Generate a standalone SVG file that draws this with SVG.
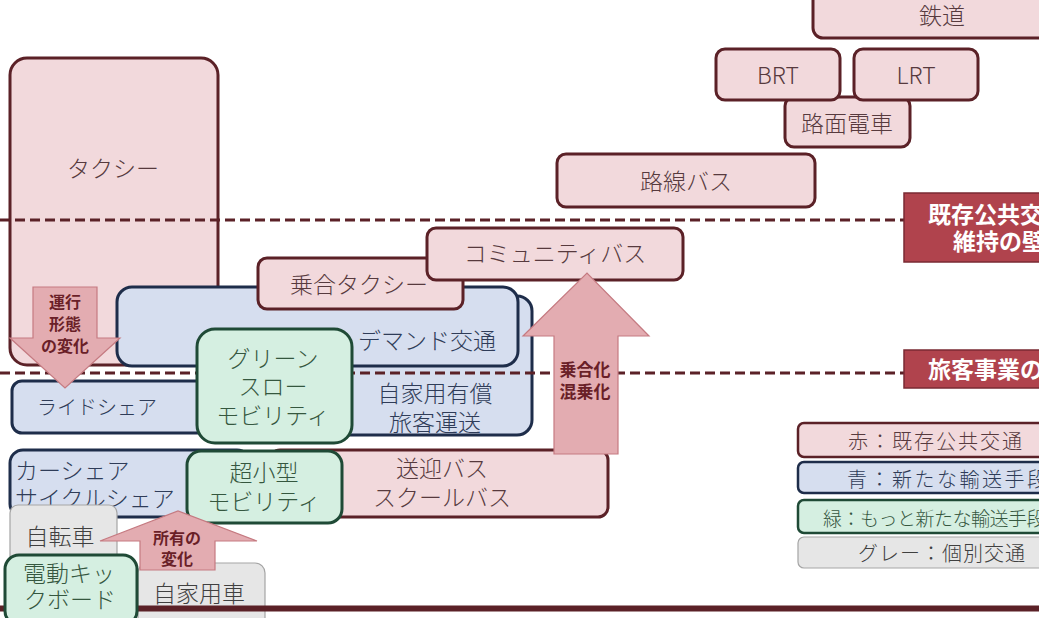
<svg xmlns="http://www.w3.org/2000/svg" width="1039" height="618" viewBox="0 0 1039 618">
<style>
text{font-family:"Noto Sans CJK JP","Noto Sans",sans-serif;dominant-baseline:central;text-anchor:middle;font-weight:300}
.r rect{fill:#f2d9dc;stroke:#5b2127;stroke-width:3}
.r text{fill:#573a3e;font-size:23px}
.b rect{fill:#d6deef;stroke:#1e2d4a;stroke-width:3}
.b text{fill:#2f3c58;font-size:23px}
.g rect{fill:#d5efe1;stroke:#1f4a36;stroke-width:3}
.g text{fill:#35573f;font-size:23px}
.y rect{fill:#e6e6e6;stroke:#a5a5a5;stroke-width:1.2}
.y text{fill:#404040;font-size:23px}
.dash{stroke:#5b2127;stroke-width:3;stroke-dasharray:10 5;fill:none}
.arr path{fill:#e3acb1;stroke:#c57a81;stroke-width:1.2}
.arr text{fill:#6a1f28;font-weight:bold;font-size:16px}
.lab rect{fill:#b0434d;stroke:#7a2a33;stroke-width:1.5}
.lab text{fill:#fff;font-weight:bold;font-size:23px;text-anchor:start}
.leg text{font-size:20px;text-anchor:start}
</style>
<rect width="1039" height="618" fill="#fff"/>
<g id="tetsudo" class="r"><rect x="813" y="-15" width="260" height="53" rx="10"/><text x="942" y="14">鉄道</text></g>
<g id="romen" class="r"><rect x="785" y="97" width="125" height="50" rx="9"/><text x="847" y="122">路面電車</text></g>
<g id="brt" class="r"><rect x="716" y="49" width="124" height="51" rx="9"/><text x="778" y="74">BRT</text></g>
<g id="lrt" class="r"><rect x="854" y="49" width="124" height="51" rx="9"/><text x="916" y="74">LRT</text></g>
<g id="rosen" class="r"><rect x="557" y="154" width="258" height="53" rx="9"/><text x="686" y="180">路線バス</text></g>
<g id="taxi" class="r"><rect x="10" y="58" width="208" height="307" rx="17"/><text x="113" y="167">タクシー</text></g>
<g id="jikayo" class="b"><rect x="230" y="296" width="302" height="139" rx="15"/><text x="435" y="392">自家用有償</text><text x="435" y="421">旅客運送</text></g>
<g id="demand" class="b"><rect x="117" y="287" width="401" height="79" rx="15"/><text x="427" y="339">デマンド交通</text></g>
<g id="noriai" class="r"><rect x="258" y="258" width="205" height="51" rx="9"/><text x="359" y="283">乗合タクシー</text></g>
<g id="community" class="r"><rect x="427" y="228" width="256" height="52" rx="9"/><text x="555" y="252">コミュニティバス</text></g>
<g id="rideshare" class="b"><rect x="12" y="381" width="230" height="52" rx="10"/><text x="97" y="406" style="font-size:20px">ライドシェア</text></g>
<g id="sogei" class="r"><rect x="270" y="450" width="338" height="67" rx="10"/><text x="442" y="467">送迎バス</text><text x="442" y="496">スクールバス</text></g>
<g id="carshare" class="b"><rect x="10" y="450" width="240" height="67" rx="13"/><text x="15" y="469" style="text-anchor:start">カーシェア</text><text x="15" y="497" style="text-anchor:start">サイクルシェア</text></g>
<g id="jitensha" class="y"><rect x="10" y="505" width="107" height="70" rx="8"/><text x="60" y="535">自転車</text></g>
<g id="jikayosha" class="y"><rect x="138" y="563" width="127" height="70" rx="10"/><text x="199" y="592">自家用車</text></g>
<g id="lines">
<line class="dash" x1="0" y1="220" x2="904" y2="220"/>
<line class="dash" x1="0" y1="373" x2="904" y2="373"/>
<line x1="0" y1="608.5" x2="1039" y2="608.5" stroke="#5b2127" stroke-width="6"/>
</g>
<g id="greenslow" class="g"><rect x="197" y="329" width="155" height="114" rx="18"/><text x="273" y="357">グリーン</text><text x="273" y="385">スロー</text><text x="273" y="414">モビリティ</text></g>
<g id="chokogata" class="g"><rect x="187" y="451" width="155" height="72" rx="14"/><text x="264" y="471">超小型</text><text x="264" y="500">モビリティ</text></g>
<g id="kickboard" class="g"><rect x="5" y="555" width="132" height="70" rx="14"/><text x="69" y="572">電動キッ</text><text x="70" y="598">クボード</text></g>
<g id="arrow-unko" class="arr"><path d="M33 287 H97 V338 H120 L65 388 L10 338 H33 Z"/><text x="65" y="301">運行</text><text x="65" y="323">形態</text><text x="65" y="345">の変化</text></g>
<g id="arrow-shoyu" class="arr"><path d="M140 570 V541 H100 L178 511 L257 541 H215 V570 Z"/><text x="177" y="537">所有の</text><text x="177" y="558">変化</text></g>
<g id="arrow-noriai" class="arr"><path d="M554 454 V336 H523 L587 273 L649 336 H618 V454 Z"/><text x="585" y="368" style="font-size:17px">乗合化</text><text x="585" y="390" style="font-size:17px">混乗化</text></g>
<g id="label-kizon" class="lab"><rect x="904" y="193" width="180" height="69"/><text x="928" y="213">既存公共交通</text><text x="953" y="240">維持の壁</text></g>
<g id="label-ryokaku" class="lab"><rect x="904" y="350" width="180" height="38"/><text x="928" y="368">旅客事業の壁</text></g>
<g id="legend" class="leg">
<g class="r"><rect x="798" y="423" width="280" height="34" rx="6" style="stroke-width:2.5"/><text x="848" y="440" style="font-size:20px;text-anchor:start;letter-spacing:2px">赤：既存公共交通</text></g>
<g class="b"><rect x="798" y="462" width="280" height="31" rx="6" style="stroke-width:2.5"/><text x="847" y="478" style="font-size:20px;text-anchor:start;letter-spacing:2.5px">青：新たな輸送手段</text></g>
<g class="g"><rect x="798" y="500" width="280" height="33" rx="6" style="stroke-width:2.5"/><text x="823" y="517" style="font-size:19px;text-anchor:start;letter-spacing:-0.5px">緑：もっと新たな輸送手段</text></g>
<g class="y"><rect x="798" y="537" width="280" height="31" rx="6"/><text x="858" y="552" style="font-size:20px;text-anchor:start;letter-spacing:1px">グレー：個別交通</text></g>
</g>
</svg>
